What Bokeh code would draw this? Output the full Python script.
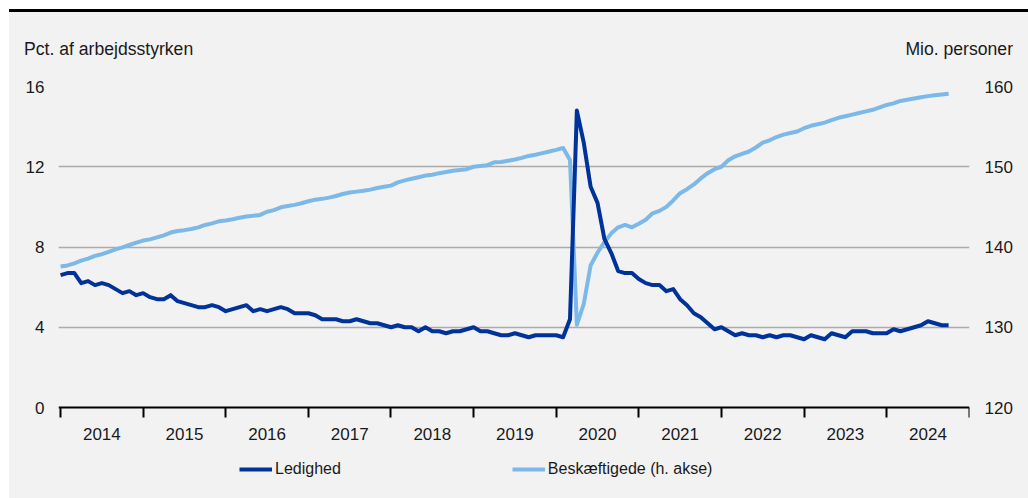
from bokeh.plotting import figure
from bokeh.models import Range1d, LinearAxis, FixedTicker, Legend, LegendItem, Div
from bokeh.layouts import column
from bokeh.embed import file_html
from bokeh.resources import INLINE

# Monthly series, January 2014 - October 2024
start_year = 2014
year_labels = ["2014", "2015", "2016", "2017", "2018", "2019",
               "2020", "2021", "2022", "2023", "2024"]

# Unemployment rate, pct. of labour force
ledighed = [
    6.6, 6.7, 6.7, 6.2, 6.3, 6.1, 6.2, 6.1, 5.9, 5.7, 5.8, 5.6,    # 2014
    5.7, 5.5, 5.4, 5.4, 5.6, 5.3, 5.2, 5.1, 5.0, 5.0, 5.1, 5.0,    # 2015
    4.8, 4.9, 5.0, 5.1, 4.8, 4.9, 4.8, 4.9, 5.0, 4.9, 4.7, 4.7,    # 2016
    4.7, 4.6, 4.4, 4.4, 4.4, 4.3, 4.3, 4.4, 4.3, 4.2, 4.2, 4.1,    # 2017
    4.0, 4.1, 4.0, 4.0, 3.8, 4.0, 3.8, 3.8, 3.7, 3.8, 3.8, 3.9,    # 2018
    4.0, 3.8, 3.8, 3.7, 3.6, 3.6, 3.7, 3.6, 3.5, 3.6, 3.6, 3.6,    # 2019
    3.6, 3.5, 4.4, 14.8, 13.2, 11.0, 10.2, 8.4, 7.7, 6.8, 6.7, 6.7,  # 2020
    6.4, 6.2, 6.1, 6.1, 5.8, 5.9, 5.4, 5.1, 4.7, 4.5, 4.2, 3.9,    # 2021
    4.0, 3.8, 3.6, 3.7, 3.6, 3.6, 3.5, 3.6, 3.5, 3.6, 3.6, 3.5,    # 2022
    3.4, 3.6, 3.5, 3.4, 3.7, 3.6, 3.5, 3.8, 3.8, 3.8, 3.7, 3.7,    # 2023
    3.7, 3.9, 3.8, 3.9, 4.0, 4.1, 4.3, 4.2, 4.1, 4.1,              # 2024
]

# Employed persons, millions (right axis)
beskaeftigede = [
    137.56, 137.7, 137.97, 138.3, 138.55, 138.9, 139.1, 139.4, 139.7, 139.95, 140.25, 140.55,   # 2014
    140.8, 140.95, 141.2, 141.45, 141.8, 142.0, 142.1, 142.25, 142.45, 142.75, 142.95, 143.2,   # 2015
    143.3, 143.45, 143.65, 143.8, 143.9, 144.0, 144.4, 144.6, 144.95, 145.1, 145.25, 145.45,    # 2016
    145.7, 145.9, 146.0, 146.15, 146.35, 146.6, 146.8, 146.9, 147.0, 147.15, 147.35, 147.5,    # 2017
    147.65, 148.05, 148.3, 148.5, 148.7, 148.9, 149.0, 149.2, 149.35, 149.5, 149.6, 149.7,    # 2018
    150.0, 150.1, 150.2, 150.55, 150.6, 150.75, 150.9, 151.1, 151.35, 151.5, 151.7, 151.9,    # 2019
    152.1, 152.34, 150.85, 130.3, 132.9, 137.7, 139.3, 140.6, 141.7, 142.45, 142.75, 142.45,  # 2020
    142.9, 143.4, 144.2, 144.5, 145.0, 145.8, 146.7, 147.2, 147.8, 148.55, 149.2, 149.7,      # 2021
    150.0, 150.8, 151.3, 151.6, 151.9, 152.4, 153.0, 153.3, 153.7, 154.0, 154.2, 154.4,       # 2022
    154.8, 155.1, 155.3, 155.5, 155.8, 156.1, 156.3, 156.5, 156.7, 156.9, 157.1, 157.4,       # 2023
    157.7, 157.9, 158.2, 158.35, 158.5, 158.65, 158.8, 158.9, 159.0, 159.1,                   # 2024
]

left_ticks = [0, 4, 8, 12, 16]
right_ticks = [120, 130, 140, 150, 160]
left_caption = "Pct. af arbejdsstyrken"
right_caption = "Mio. personer"

# decimal-year position of each month
x = [start_year + i / 12 for i in range(len(ledighed))]

BG = "#f2f2f2"
DARK = "#003399"
LIGHT = "#7db9e8"
GRID = "#ababab"
TEXT = "#1a1a1a"
FONT = "Liberation Sans"
FS = "17px"

W = 1019
CAP_H = 56
H = 430
B_LEFT, B_RIGHT, B_TOP = 49, 59, 18
AXIS_SPAN = 321          # pixels between 0 and 16 on the left scale
X0, X1 = 2013.975, 2025.003

# the plot area runs on below the zero line so the legend can sit inside it
L_LO, L_HI = left_ticks[0], left_ticks[-1]
R_LO, R_HI = right_ticks[0], right_ticks[-1]
below_units = (H - B_TOP - AXIS_SPAN) * (L_HI - L_LO) / AXIS_SPAN
y_lo = L_LO - below_units
r_lo = R_LO - below_units * (R_HI - R_LO) / (L_HI - L_LO)

# --- caption strip above the chart (axis units) ---------------------------------
cap_style = ("position:absolute; top:27px; font-family:'Liberation Sans'; "
             "font-size:17.6px; line-height:normal; white-space:nowrap; color:%s;" % TEXT)
cap_html = (
    '<div style="position:relative; width:%dpx; height:%dpx;">'
    '<div style="%s left:15px;">%s</div>'
    '<div style="%s right:15px;">%s</div>'
    '</div>' % (W, CAP_H, cap_style, left_caption, cap_style, right_caption)
)
captions = Div(text=cap_html, width=W, height=CAP_H, margin=0,
               styles={"background-color": BG})

# --- main chart ----------------------------------------------------------------
p = figure(width=W, height=H, output_backend="svg", toolbar_location=None,
           x_range=Range1d(X0, X1), y_range=Range1d(y_lo, L_HI),
           background_fill_color=BG, border_fill_color=BG,
           outline_line_color=None,
           min_border_left=B_LEFT, min_border_right=B_RIGHT,
           min_border_top=B_TOP, min_border_bottom=0,
           margin=0)
p.extra_y_ranges = {"emp": Range1d(r_lo, R_HI)}

# horizontal gridlines
p.xgrid.visible = False
p.ygrid.ticker = FixedTicker(ticks=left_ticks[1:])
p.ygrid.grid_line_color = GRID
p.ygrid.grid_line_width = 1.5

# left axis
ya = p.yaxis[0]
ya.ticker = FixedTicker(ticks=left_ticks)
ya.axis_line_color = None
ya.major_tick_line_color = None
ya.minor_tick_line_color = None
ya.major_tick_out = 0
ya.major_label_standoff = 14
ya.major_label_text_font = FONT
ya.major_label_text_font_size = FS
ya.major_label_text_color = TEXT

# right axis
ra = LinearAxis(y_range_name="emp", ticker=FixedTicker(ticks=right_ticks))
ra.axis_line_color = None
ra.major_tick_line_color = None
ra.minor_tick_line_color = None
ra.major_tick_out = 0
ra.major_label_standoff = 15
ra.major_label_text_font = FONT
ra.major_label_text_font_size = FS
ra.major_label_text_color = TEXT
p.add_layout(ra, "right")

# x axis on the zero line: year boundaries as ticks, year names centred between them
xa = p.xaxis[0]
xa.fixed_location = L_LO
mids = [start_year + k + 0.5 for k in range(len(year_labels))]
xa.ticker = FixedTicker(ticks=mids,
                        minor_ticks=[start_year + k for k in range(len(year_labels) + 1)])
xa.major_label_overrides = {m: lab for m, lab in zip(mids, year_labels)}
xa.major_tick_line_color = None
xa.major_tick_out = 0
xa.major_tick_in = 0
xa.minor_tick_out = 10
xa.minor_tick_in = 0
xa.minor_tick_line_color = "black"
xa.minor_tick_line_width = 2
xa.axis_line_color = "black"
xa.axis_line_width = 2
xa.major_label_standoff = 10
xa.major_label_text_font = FONT
xa.major_label_text_font_size = FS
xa.major_label_text_color = TEXT

r_emp = p.line(x, beskaeftigede, y_range_name="emp", line_color=LIGHT,
               line_width=4, line_join="round")
r_unemp = p.line(x, ledighed, line_color=DARK, line_width=4, line_join="round")

legend = Legend(items=[LegendItem(label="Ledighed", renderers=[r_unemp]),
                       LegendItem(label="Beskæftigede (h. akse)", renderers=[r_emp])],
                orientation="horizontal", location=(181, 19),
                spacing=171, glyph_width=33, glyph_height=20, label_height=20,
                label_standoff=3, padding=0, margin=0,
                background_fill_alpha=0, border_line_color=None,
                label_text_font=FONT, label_text_font_size="16px",
                label_text_color=TEXT)
p.add_layout(legend)

top_rule = Div(width=W, height=3, margin=0,
               styles={"background-color": "#000000"})

page = column(top_rule, captions, p, spacing=0, margin=(9, 0, 0, 9),
              styles={"background-color": BG})

open("out.html", "w").write(file_html(page, INLINE))
